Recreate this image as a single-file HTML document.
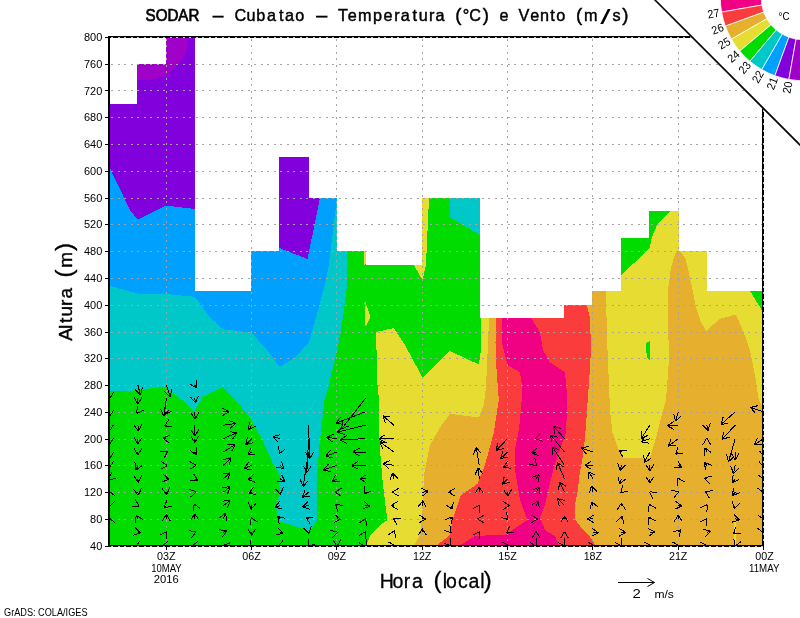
<!DOCTYPE html>
<html><head><meta charset="utf-8"><title>SODAR - Cubatao</title>
<style>html,body{margin:0;padding:0;background:#fff}svg{display:block}text{font-family:"Liberation Sans",sans-serif;fill:#000}</style></head><body>
<svg width="800" height="618" viewBox="0 0 800 618">
<rect width="800" height="618" fill="#fff"/>
<defs><clipPath id="sil"><polygon points="109.4,545.6 109.0,104.0 137.0,104.0 137.0,64.0 166.0,64.0 166.0,37.0 195.0,37.0 195.0,291.0 223.0,291.0 223.0,291.0 251.0,291.0 251.0,251.0 279.0,251.0 279.0,157.0 309.0,157.0 309.0,198.0 337.0,198.0 337.0,251.0 366.0,251.0 366.0,265.0 394.0,265.0 394.0,265.0 422.0,265.0 422.0,198.0 451.0,198.0 451.0,198.0 480.0,198.0 480.0,318.0 508.0,318.0 508.0,318.0 536.0,318.0 536.0,318.0 564.0,318.0 564.0,305.0 592.0,305.0 592.0,291.0 621.0,291.0 621.0,238.0 649.0,238.0 649.0,211.0 679.0,211.0 679.0,251.0 707.0,251.0 707.0,291.0 735.0,291.0 735.0,291.0 763.0,291.0 763.5,545.6"/></clipPath>
<clipPath id="cut"><polygon points="0,0 654,0 800,146 800,618 0,618"/></clipPath>
<clipPath id="box"><rect x="108" y="36" width="656" height="511"/></clipPath></defs>
<g clip-path="url(#cut)">
<g clip-path="url(#sil)" shape-rendering="crispEdges">
<rect x="100" y="30" width="680" height="520" fill="#00c8c8"/>
<polygon fill="#00a0ff" points="100.0,285.8 109.4,285.8 137.5,293.5 166.0,294.0 194.8,296.8 210.0,317.5 223.8,329.5 251.0,332.5 265.0,347.5 279.5,366.8 295.0,357.5 308.8,342.5 317.5,312.5 326.0,280.0 328.8,265.0 337.0,198.0 337.0,30.0 100.0,30.0"/>
<polygon fill="#8200dc" points="100.0,167.0 109.4,167.0 116.0,181.0 130.0,210.0 137.5,219.5 166.0,205.5 194.8,209.0 200.0,209.0 200.0,30.0 100.0,30.0"/>
<polygon fill="#8200dc" points="278.0,247.5 307.5,259.0 320.0,198.0 320.0,150.0 278.0,150.0"/>
<polygon fill="#a000c8" points="136.0,79.8 150.0,80.0 166.0,76.5 175.0,68.0 185.0,55.5 188.0,45.0 187.0,37.0 187.0,30.0 136.0,30.0"/>
<polygon fill="#00dc00" points="100.0,390.8 109.4,390.8 125.0,391.5 137.5,390.0 162.5,387.0 166.0,387.5 172.5,392.5 185.0,402.5 194.2,411.2 202.5,397.5 222.5,387.0 235.0,400.0 250.0,417.5 262.5,440.0 272.5,462.5 280.0,477.5 278.8,482.5 280.0,492.5 276.0,505.0 278.0,521.0 300.0,528.0 305.0,528.0 308.5,533.0 317.5,520.0 317.0,475.0 319.5,445.0 324.5,400.0 329.0,385.0 338.8,342.5 343.8,312.5 347.5,280.0 347.0,251.0 347.0,30.0 800.0,30.0 800.0,560.0 100.0,560.0"/>
<polygon fill="#00c8c8" points="450.0,190.0 480.0,190.0 480.0,235.0 450.0,217.5"/>
<polygon fill="#e6dc32" points="366.0,546.0 370.0,536.0 380.0,525.0 387.5,520.0 386.0,510.0 382.5,480.0 380.0,450.0 378.8,425.0 379.0,400.0 377.5,385.0 376.8,360.0 376.0,332.0 393.8,328.0 405.0,345.0 422.5,377.5 450.0,351.0 478.8,364.5 481.0,350.0 481.0,280.0 621.0,280.0 621.0,275.0 646.0,252.0 650.0,247.0 652.0,237.0 657.0,225.0 670.0,211.0 680.0,205.0 750.0,205.0 750.0,291.0 763.0,312.0 800.0,312.0 800.0,560.0 366.0,560.0"/>
<polygon fill="#e6dc32" points="364.0,251.0 366.0,251.0 365.5,264.5 364.5,264.5"/>
<polygon fill="#e6dc32" points="422.0,198.0 429.0,198.0 426.0,264.5 422.5,280.0 413.5,264.5 422.0,264.5"/>
<polygon fill="#e6dc32" points="364.5,303.5 365.5,302.0 370.5,317.5 366.0,326.0 364.5,325.0"/>
<polygon fill="#00dc00" points="646.0,343.0 649.5,341.0 649.5,360.0 647.5,358.0 646.0,350.0"/>
<polygon fill="#e6af2d" points="413.8,546.0 420.0,535.0 423.0,505.0 423.8,475.0 430.0,445.0 440.0,427.5 450.0,413.8 478.8,417.5 483.8,405.0 486.0,387.5 488.8,325.0 488.8,300.0 606.0,280.0 606.0,300.0 607.5,350.0 610.0,410.0 612.5,432.5 618.8,450.0 623.8,458.0 650.0,458.0 656.0,437.5 662.5,412.5 666.0,400.0 668.8,362.5 668.0,300.0 668.0,290.0 671.0,267.5 676.0,251.0 680.0,251.0 685.0,257.5 688.8,272.5 692.5,290.0 696.0,307.5 700.0,320.0 706.0,331.0 720.0,318.8 736.0,314.5 743.8,332.5 750.0,350.0 755.0,375.0 758.8,400.0 763.0,407.5 800.0,407.0 800.0,560.0 413.0,560.0"/>
<polygon fill="#fa3c3c" points="436.0,546.0 450.0,535.0 452.5,520.0 461.0,495.0 477.5,483.8 485.0,465.0 493.8,432.5 498.8,400.0 496.0,362.5 495.5,342.5 496.0,300.0 585.5,300.0 590.0,317.5 591.0,350.0 589.5,375.0 586.0,425.0 583.8,450.0 579.4,476.0 577.5,492.0 575.0,505.0 575.0,519.0 580.0,526.0 590.0,537.0 596.0,546.0 596.0,560.0 436.0,560.0"/>
<polygon fill="#f00082" points="459.0,546.0 475.0,536.0 506.0,534.5 512.5,530.0 527.5,520.0 520.0,500.0 515.0,470.0 515.0,450.0 518.8,430.0 521.0,410.0 522.5,387.5 520.0,372.5 507.5,365.0 502.5,345.0 502.0,300.0 531.0,300.0 531.0,318.0 540.0,332.5 543.0,350.0 550.0,362.5 565.0,372.5 567.5,400.0 566.0,432.5 562.5,442.5 556.0,460.0 550.0,482.5 545.0,505.0 540.0,517.5 545.0,530.0 555.0,536.0 559.0,546.0 559.0,560.0 459.0,560.0"/>
<polygon fill="#e6dc32" points="733.5,522.0 735.5,522.0 736.0,545.0 734.0,545.0"/>
</g>
<g stroke="#a4a4a4" stroke-width="1" stroke-dasharray="1.7 4.8" fill="none" shape-rendering="crispEdges">
<line x1="111.4" y1="519.5" x2="763.5" y2="519.5"/>
<line x1="111.4" y1="492.5" x2="763.5" y2="492.5"/>
<line x1="111.4" y1="465.5" x2="763.5" y2="465.5"/>
<line x1="111.4" y1="439.5" x2="763.5" y2="439.5"/>
<line x1="111.4" y1="412.5" x2="763.5" y2="412.5"/>
<line x1="111.4" y1="385.5" x2="763.5" y2="385.5"/>
<line x1="111.4" y1="358.5" x2="763.5" y2="358.5"/>
<line x1="111.4" y1="332.5" x2="763.5" y2="332.5"/>
<line x1="111.4" y1="305.5" x2="763.5" y2="305.5"/>
<line x1="111.4" y1="278.5" x2="763.5" y2="278.5"/>
<line x1="111.4" y1="251.5" x2="763.5" y2="251.5"/>
<line x1="111.4" y1="224.5" x2="763.5" y2="224.5"/>
<line x1="111.4" y1="198.5" x2="763.5" y2="198.5"/>
<line x1="111.4" y1="171.5" x2="763.5" y2="171.5"/>
<line x1="111.4" y1="144.5" x2="763.5" y2="144.5"/>
<line x1="111.4" y1="117.5" x2="763.5" y2="117.5"/>
<line x1="111.4" y1="90.5" x2="763.5" y2="90.5"/>
<line x1="111.4" y1="64.5" x2="763.5" y2="64.5"/>
<line x1="166.5" y1="38.9" x2="166.5" y2="545.6"/>
<line x1="251.5" y1="38.9" x2="251.5" y2="545.6"/>
<line x1="336.5" y1="38.9" x2="336.5" y2="545.6"/>
<line x1="422.5" y1="38.9" x2="422.5" y2="545.6"/>
<line x1="507.5" y1="38.9" x2="507.5" y2="545.6"/>
<line x1="592.5" y1="38.9" x2="592.5" y2="545.6"/>
<line x1="678.5" y1="38.9" x2="678.5" y2="545.6"/>
</g>
<g clip-path="url(#box)" stroke="#000" stroke-width="1" fill="none" stroke-linecap="butt" shape-rendering="crispEdges">
<path d="M109.5,545.7 L109.9,544.3 M109.9,544.3 L104.3,549.6 M109.9,544.3 L112.0,551.7 M109.5,518.9 L109.2,518.0 M109.2,518.0 L107.7,525.5 M109.2,518.0 L115.1,522.8 M109.5,505.5 L109.2,506.5 M109.2,506.5 L114.8,501.2 M109.2,506.5 L107.1,499.1 M109.5,492.2 L109.2,491.2 M109.2,491.2 L107.7,498.8 M109.2,491.2 L115.1,496.1 M109.5,478.8 L108.7,479.3 M108.7,479.3 L116.4,478.8 M108.7,479.3 L111.8,472.3 M109.5,465.4 L109.3,467.4 M109.3,467.4 L113.9,461.1 M109.3,467.4 L105.9,460.5 M109.5,452.0 L109.5,459.0 M109.5,459.0 L113.5,452.4 M109.5,459.0 L105.5,452.4 M109.5,438.6 L109.5,444.6 M109.5,444.6 L113.5,438.0 M109.5,444.6 L105.5,438.0 M109.5,425.2 L109.5,431.2 M109.5,431.2 L113.5,424.6 M109.5,431.2 L105.5,424.6 M109.5,411.8 L109.5,416.8 M109.5,416.8 L113.5,410.2 M109.5,416.8 L105.5,410.2 M109.5,398.4 L109.5,398.9 M109.5,398.9 L113.5,392.3 M109.5,398.9 L105.5,392.3 M137.9,545.7 L135.6,546.6 M135.6,546.6 L143.1,548.0 M135.6,546.6 L140.4,540.6 M137.9,532.3 L140.4,532.9 M140.4,532.9 L134.9,527.5 M140.4,532.9 L133.0,535.2 M137.9,518.9 L136.1,515.4 M136.1,515.4 L135.7,523.1 M136.1,515.4 L142.7,519.4 M137.9,505.5 L139.3,506.2 M139.3,506.2 L135.2,499.7 M139.3,506.2 L131.6,506.8 M137.9,492.2 L138.4,495.4 M138.4,495.4 L141.4,488.3 M138.4,495.4 L133.5,489.4 M137.9,478.8 L138.1,482.3 M138.1,482.3 L141.8,475.5 M138.1,482.3 L133.9,475.8 M137.9,465.4 L136.0,470.0 M136.0,470.0 L142.2,465.5 M136.0,470.0 L134.9,462.4 M137.9,452.0 L137.9,455.0 M137.9,455.0 L141.9,448.4 M137.9,455.0 L134.0,448.4 M137.9,438.6 L137.5,444.1 M137.5,444.1 L142.0,437.9 M137.5,444.1 L134.1,437.2 M137.9,425.2 L138.5,431.2 M138.5,431.2 L141.8,424.3 M138.5,431.2 L133.9,425.0 M137.9,411.8 L136.8,413.5 M136.8,413.5 L143.8,410.3 M136.8,413.5 L137.3,405.8 M137.9,398.4 L137.9,403.9 M137.9,403.9 L141.9,397.3 M137.9,403.9 L134.0,397.3 M137.9,385.1 L140.4,394.8 M140.4,394.8 L142.6,387.4 M140.4,394.8 L134.9,389.3 M166.4,545.7 L161.6,546.1 M161.6,546.1 L168.6,549.5 M161.6,546.1 L167.9,541.6 M166.4,532.3 L166.8,531.7 M166.8,531.7 L159.8,535.0 M166.8,531.7 L166.4,539.4 M166.4,518.9 L166.4,514.3 M166.4,514.3 L162.4,520.9 M166.4,514.3 L170.3,520.9 M166.4,505.5 L163.9,507.3 M163.9,507.3 L171.6,506.7 M163.9,507.3 L167.0,500.2 M166.4,492.2 L166.7,494.5 M166.7,494.5 L169.8,487.5 M166.7,494.5 L161.9,488.5 M166.4,478.8 L169.1,479.3 M169.1,479.3 L163.3,474.2 M169.1,479.3 L161.9,482.0 M166.4,465.4 L167.4,465.4 M167.4,465.4 L160.8,461.4 M167.4,465.4 L160.8,469.3 M166.4,452.0 L167.7,451.2 M167.7,451.2 L160.0,451.3 M167.7,451.2 L164.2,458.1 M166.4,438.6 L162.9,438.1 M162.9,438.1 L168.9,443.0 M162.9,438.1 L170.0,435.1 M166.4,425.2 L164.6,426.1 M164.6,426.1 L172.3,426.7 M164.6,426.1 L168.7,419.6 M166.4,411.8 L164.7,414.3 M164.7,414.3 L171.7,411.2 M164.7,414.3 L165.2,406.6 M166.4,398.4 L163.6,416.2 M163.6,416.2 L168.5,410.3 M163.6,416.2 L160.7,409.1 M166.4,385.1 L170.1,396.7 M170.1,396.7 L171.9,389.2 M170.1,396.7 L164.3,391.6 M194.8,545.7 L191.7,546.0 M191.7,546.0 L198.6,549.3 M191.7,546.0 L198.0,541.4 M194.8,532.3 L196.1,531.8 M196.1,531.8 L188.5,530.6 M196.1,531.8 L191.5,537.9 M194.8,518.9 L194.8,513.7 M194.8,513.7 L190.8,520.3 M194.8,513.7 L198.8,520.3 M194.8,505.5 L194.2,504.0 M194.2,504.0 L193.0,511.6 M194.2,504.0 L200.3,508.6 M194.8,492.2 L196.3,491.9 M196.3,491.9 L189.1,489.2 M196.3,491.9 L190.6,497.0 M194.8,478.8 L197.7,480.1 M197.7,480.1 L193.4,473.7 M197.7,480.1 L190.1,480.9 M194.8,465.4 L196.1,465.4 M196.1,465.4 L189.5,461.4 M196.1,465.4 L189.5,469.3 M194.8,452.0 L196.0,454.7 M196.0,454.7 L197.0,447.1 M196.0,454.7 L189.7,450.3 M194.8,438.6 L194.8,442.6 M194.8,442.6 L198.8,436.0 M194.8,442.6 L190.8,436.0 M194.8,425.2 L194.8,436.2 M194.8,436.2 L198.8,429.6 M194.8,436.2 L190.8,429.6 M194.8,411.8 L195.2,419.3 M195.2,419.3 L198.8,412.5 M195.2,419.3 L190.9,412.9 M194.8,398.4 L195.6,402.9 M195.6,402.9 L198.4,395.7 M195.6,402.9 L190.5,397.1 M194.8,385.1 L196.3,387.7 M196.3,387.7 L196.5,380.0 M196.3,387.7 L189.6,383.9 M223.3,545.7 L222.8,545.6 M222.8,545.6 L228.6,550.7 M222.8,545.6 L230.0,542.8 M223.3,532.3 L226.9,530.8 M226.9,530.8 L219.3,529.7 M226.9,530.8 L222.4,537.0 M223.3,518.9 L225.4,513.1 M225.4,513.1 L219.4,517.9 M225.4,513.1 L226.9,520.7 M223.3,505.5 L230.4,500.5 M230.4,500.5 L222.7,501.1 M230.4,500.5 L227.3,507.6 M223.3,492.2 L230.1,486.6 M230.1,486.6 L222.5,487.7 M230.1,486.6 L227.5,493.9 M223.3,478.8 L230.1,472.8 M230.1,472.8 L222.5,474.1 M230.1,472.8 L227.7,480.1 M223.3,465.4 L231.0,457.9 M231.0,457.9 L223.4,459.7 M231.0,457.9 L229.0,465.4 M223.3,452.0 L235.1,444.6 M235.1,444.6 L227.4,444.7 M235.1,444.6 L231.6,451.4 M223.3,438.6 L237.2,432.7 M237.2,432.7 L229.6,431.6 M237.2,432.7 L232.7,438.9 M223.3,425.2 L236.0,423.4 M236.0,423.4 L228.9,420.4 M236.0,423.4 L230.0,428.3 M223.3,411.8 L228.9,411.8 M228.9,411.8 L222.3,407.9 M228.9,411.8 L222.3,415.8 M251.7,545.7 L249.6,548.2 M249.6,548.2 L256.9,545.6 M249.6,548.2 L250.8,540.5 M251.7,532.3 L251.7,535.4 M251.7,535.4 L255.7,528.8 M251.7,535.4 L247.7,528.8 M251.7,518.9 L251.1,517.7 M251.1,517.7 L250.4,525.3 M251.1,517.7 L257.5,521.9 M251.7,505.5 L251.2,509.3 M251.2,509.3 L256.0,503.3 M251.2,509.3 L248.2,502.2 M251.7,492.2 L248.9,493.2 M248.9,493.2 L256.4,494.7 M248.9,493.2 L253.7,487.2 M251.7,478.8 L248.0,479.4 M248.0,479.4 L255.1,482.2 M248.0,479.4 L253.8,474.4 M251.7,465.4 L243.9,468.4 M243.9,468.4 L251.5,469.7 M243.9,468.4 L248.7,462.3 M251.7,452.0 L247.7,454.5 M247.7,454.5 L255.4,454.4 M247.7,454.5 L251.2,447.6 M251.7,438.6 L245.7,444.6 M245.7,444.6 L253.2,442.8 M245.7,444.6 L247.5,437.1 M251.7,425.2 L248.9,429.6 M248.9,429.6 L255.8,426.1 M248.9,429.6 L249.1,421.9 M280.1,545.7 L278.3,546.4 M278.3,546.4 L285.8,547.9 M278.3,546.4 L283.1,540.4 M280.1,532.3 L282.9,533.1 M282.9,533.1 L277.6,527.5 M282.9,533.1 L275.5,535.2 M280.1,518.9 L277.7,516.2 M277.7,516.2 L279.1,523.7 M277.7,516.2 L285.0,518.4 M280.1,505.5 L274.7,507.4 M274.7,507.4 L282.3,509.0 M274.7,507.4 L279.7,501.5 M280.1,492.2 L280.6,494.5 M280.6,494.5 L283.2,487.3 M280.6,494.5 L275.4,488.8 M280.1,478.8 L285.2,482.0 M285.2,482.0 L281.8,475.1 M285.2,482.0 L277.5,481.8 M280.1,465.4 L283.9,468.4 M283.9,468.4 L281.2,461.2 M283.9,468.4 L276.2,467.3 M280.1,452.0 L279.6,453.5 M279.6,453.5 L285.6,448.7 M279.6,453.5 L278.2,445.9 M280.1,438.6 L272.9,436.7 M272.9,436.7 L278.2,442.2 M272.9,436.7 L280.3,434.5 M308.6,545.7 L307.8,546.6 M307.8,546.6 L315.1,544.1 M307.8,546.6 L309.0,539.0 M308.6,532.3 L308.9,533.5 M308.9,533.5 L311.2,526.2 M308.9,533.5 L303.5,528.0 M308.6,518.9 L306.0,517.7 M306.0,517.7 L310.2,524.1 M306.0,517.7 L313.6,517.0 M308.6,505.5 L302.5,506.8 M302.5,506.8 L309.8,509.3 M302.5,506.8 L308.1,501.6 M308.6,492.2 L302.4,497.3 M302.4,497.3 L310.1,496.1 M302.4,497.3 L304.9,490.0 M308.6,452.0 L303.1,486.6 M303.1,486.6 L308.1,480.7 M303.1,486.6 L300.2,479.4 M308.6,438.6 L306.8,472.6 M306.8,472.6 L311.1,466.2 M306.8,472.6 L303.2,465.8 M308.6,425.2 L309.7,458.8 M309.7,458.8 L313.5,452.1 M309.7,458.8 L305.5,452.3 M337.0,545.7 L337.0,546.2 M337.0,546.2 L340.8,539.5 M337.0,546.2 L332.8,539.7 M337.0,532.3 L337.5,532.2 M337.5,532.2 L330.1,530.2 M337.5,532.2 L332.2,537.8 M337.0,518.9 L340.7,519.4 M340.7,519.4 L334.6,514.6 M340.7,519.4 L333.7,522.5 M337.0,505.5 L335.5,504.3 M335.5,504.3 L338.0,511.5 M335.5,504.3 L343.1,505.5 M337.0,492.2 L334.8,492.2 M334.8,492.2 L341.4,496.1 M334.8,492.2 L341.4,488.2 M337.0,478.8 L331.9,481.9 M331.9,481.9 L339.6,481.8 M331.9,481.9 L335.4,475.1 M337.0,465.4 L323.5,470.0 M323.5,470.0 L331.0,471.6 M323.5,470.0 L328.4,464.1 M337.0,452.0 L325.6,456.4 M325.6,456.4 L333.2,457.7 M325.6,456.4 L330.4,450.3 M337.0,438.6 L326.5,437.3 M326.5,437.3 L332.6,442.1 M326.5,437.3 L333.5,434.2 M365.5,545.7 L366.0,546.6 M366.0,546.6 L366.1,538.9 M366.0,546.6 L359.2,542.8 M365.5,532.3 L365.9,531.6 M365.9,531.6 L359.1,535.3 M365.9,531.6 L366.0,539.3 M365.5,518.9 L365.7,518.5 M365.7,518.5 L359.3,522.8 M365.7,518.5 L366.5,526.1 M365.5,505.5 L369.8,506.3 M369.8,506.3 L364.0,501.2 M369.8,506.3 L362.6,509.1 M365.5,492.2 L364.1,494.1 M364.1,494.1 L371.1,491.0 M364.1,494.1 L364.6,486.4 M365.5,478.8 L359.7,478.8 M359.7,478.8 L366.3,482.7 M359.7,478.8 L366.3,474.8 M365.5,465.4 L351.6,465.4 M351.6,465.4 L358.2,469.3 M351.6,465.4 L358.2,461.4 M365.5,452.0 L353.0,452.0 M353.0,452.0 L359.6,456.0 M353.0,452.0 L359.6,448.0 M365.5,438.6 L340.2,439.9 M340.2,439.9 L347.0,443.5 M340.2,439.9 L346.6,435.6 M365.5,425.2 L337.3,432.2 M337.3,432.2 L344.7,434.5 M337.3,432.2 L342.8,426.8 M365.5,411.8 L335.9,423.2 M335.9,423.2 L343.4,424.5 M335.9,423.2 L340.6,417.1 M365.5,398.4 L341.7,428.8 M341.7,428.8 L348.9,426.0 M341.7,428.8 L342.7,421.1 M393.9,545.7 L395.4,545.6 M395.4,545.6 L388.6,542.0 M395.4,545.6 L389.0,549.9 M393.9,532.3 L394.7,530.5 M394.7,530.5 L388.4,534.8 M394.7,530.5 L395.5,538.2 M393.9,518.9 L393.5,518.7 M393.5,518.7 L397.2,525.4 M393.5,518.7 L401.2,518.5 M393.9,505.5 L391.0,505.5 M391.0,505.5 L397.6,509.5 M391.0,505.5 L397.6,501.6 M393.9,492.2 L392.3,492.2 M392.3,492.2 L398.9,496.1 M392.3,492.2 L398.9,488.2 M393.9,478.8 L392.3,472.9 M392.3,472.9 L390.2,480.3 M392.3,472.9 L397.9,478.2 M393.9,465.4 L382.9,463.4 M382.9,463.4 L388.7,468.5 M382.9,463.4 L390.0,460.7 M393.9,452.0 L379.8,441.8 M379.8,441.8 L382.8,448.9 M379.8,441.8 L387.5,442.4 M393.9,438.6 L378.9,438.6 M378.9,438.6 L385.5,442.6 M378.9,438.6 L385.5,434.6 M393.9,425.2 L382.9,415.8 M382.9,415.8 L385.3,423.1 M382.9,415.8 L390.5,417.1 M422.3,532.3 L422.2,528.6 M422.2,528.6 L418.5,535.3 M422.2,528.6 L426.4,535.0 M422.3,518.9 L425.6,518.9 M425.6,518.9 L419.0,515.0 M425.6,518.9 L419.0,522.9 M422.3,505.5 L422.9,500.6 M422.9,500.6 L418.2,506.7 M422.9,500.6 L426.1,507.5 M422.3,492.2 L428.3,491.3 M428.3,491.3 L421.2,488.3 M428.3,491.3 L422.3,496.2 M450.8,545.7 L451.1,546.1 M451.1,546.1 L450.5,538.4 M451.1,546.1 L444.0,543.0 M450.8,532.3 L451.1,532.7 M451.1,532.7 L449.9,525.1 M451.1,532.7 L443.8,530.2 M450.8,518.9 L452.4,516.8 M452.4,516.8 L445.2,519.6 M452.4,516.8 L451.5,524.4 M450.8,505.5 L452.5,509.3 M452.5,509.3 L453.3,501.6 M452.5,509.3 L446.1,505.0 M450.8,492.2 L448.5,492.2 M448.5,492.2 L455.1,496.1 M448.5,492.2 L455.1,488.2 M479.2,532.3 L479.7,531.5 M479.7,531.5 L472.9,535.0 M479.7,531.5 L479.6,539.2 M479.2,518.9 L477.5,518.9 M477.5,518.9 L484.1,522.9 M477.5,518.9 L484.1,515.0 M479.2,505.5 L479.5,505.0 M479.5,505.0 L472.8,508.7 M479.5,505.0 L479.6,512.7 M479.2,492.2 L479.2,486.7 M479.2,486.7 L475.2,493.3 M479.2,486.7 L483.2,493.3 M479.2,478.8 L478.4,467.8 M478.4,467.8 L474.9,474.7 M478.4,467.8 L482.9,474.1 M479.2,465.4 L476.2,447.4 M476.2,447.4 L473.4,454.6 M476.2,447.4 L481.2,453.3 M507.6,545.7 L509.1,545.6 M509.1,545.6 L502.3,542.0 M509.1,545.6 L502.8,549.9 M507.6,532.3 L506.6,533.1 M506.6,533.1 L514.3,532.5 M506.6,533.1 L509.7,526.0 M507.6,518.9 L508.1,519.4 M508.1,519.4 L506.2,511.9 M508.1,519.4 L500.6,517.5 M507.6,505.5 L509.6,505.5 M509.6,505.5 L503.0,501.6 M509.6,505.5 L503.0,509.5 M507.6,492.2 L507.6,496.1 M507.6,496.1 L511.6,489.5 M507.6,496.1 L503.7,489.5 M507.6,478.8 L502.4,484.2 M502.4,484.2 L509.9,482.2 M502.4,484.2 L504.2,476.7 M507.6,465.4 L503.4,467.1 M503.4,467.1 L511.0,468.3 M503.4,467.1 L508.0,461.0 M507.6,452.0 L500.6,458.6 M500.6,458.6 L508.1,457.0 M500.6,458.6 L502.7,451.2 M507.6,438.6 L496.1,450.5 M496.1,450.5 L503.6,448.6 M496.1,450.5 L497.8,443.0 M536.1,545.7 L536.3,546.1 M536.3,546.1 L536.5,538.4 M536.3,546.1 L529.6,542.4 M536.1,532.3 L536.1,531.3 M536.1,531.3 L532.1,537.9 M536.1,531.3 L540.1,537.9 M536.1,518.9 L537.6,518.9 M537.6,518.9 L531.0,515.0 M537.6,518.9 L531.0,522.9 M536.1,505.5 L538.5,500.6 M538.5,500.6 L532.0,504.8 M538.5,500.6 L539.2,508.3 M536.1,492.2 L539.4,486.7 M539.4,486.7 L532.6,490.3 M539.4,486.7 L539.4,494.4 M536.1,478.8 L539.3,474.5 M539.3,474.5 L532.2,477.3 M539.3,474.5 L538.5,482.2 M536.1,465.4 L536.6,465.9 M536.6,465.9 L534.8,458.4 M536.6,465.9 L529.1,463.9 M536.1,452.0 L531.5,452.8 M531.5,452.8 L538.6,455.6 M531.5,452.8 L537.3,447.8 M536.1,438.6 L535.3,438.8 M535.3,438.8 L542.7,441.1 M535.3,438.8 L540.8,433.4 M564.5,545.7 L564.8,546.1 M564.8,546.1 L564.9,538.4 M564.8,546.1 L558.0,542.4 M564.5,532.3 L564.5,531.7 M564.5,531.7 L560.6,538.3 M564.5,531.7 L568.5,538.3 M564.5,518.9 L564.5,515.9 M564.5,515.9 L560.6,522.5 M564.5,515.9 L568.5,522.5 M564.5,505.5 L557.4,498.7 M557.4,498.7 L559.4,506.1 M557.4,498.7 L564.9,500.4 M564.5,492.2 L559.3,482.0 M559.3,482.0 L558.8,489.7 M559.3,482.0 L565.8,486.1 M564.5,478.8 L557.4,462.5 M557.4,462.5 L556.4,470.2 M557.4,462.5 L563.7,467.0 M564.5,465.4 L552.4,446.8 M552.4,446.8 L552.7,454.5 M552.4,446.8 L559.4,450.1 M564.5,452.0 L550.6,434.8 M550.6,434.8 L551.7,442.4 M550.6,434.8 L557.9,437.4 M564.5,438.6 L553.4,426.1 M553.4,426.1 L554.9,433.7 M553.4,426.1 L560.8,428.4 M593.0,545.7 L594.5,545.6 M594.5,545.6 L587.7,542.0 M594.5,545.6 L588.1,549.9 M593.0,532.3 L598.4,532.8 M598.4,532.8 L592.2,528.3 M598.4,532.8 L591.5,536.2 M593.0,518.9 L587.5,519.1 M587.5,519.1 L594.2,522.9 M587.5,519.1 L593.9,514.9 M593.0,505.5 L591.5,501.8 M591.5,501.8 L590.3,509.4 M591.5,501.8 L597.6,506.5 M593.0,492.2 L591.4,486.0 M591.4,486.0 L589.2,493.4 M591.4,486.0 L596.9,491.5 M593.0,478.8 L588.7,471.7 M588.7,471.7 L588.7,479.4 M588.7,471.7 L595.5,475.3 M593.0,465.4 L584.7,465.4 M584.7,465.4 L591.3,469.3 M584.7,465.4 L591.3,461.4 M593.0,452.0 L581.2,448.0 M581.2,448.0 L586.2,453.9 M581.2,448.0 L588.8,446.4 M621.4,545.7 L621.7,546.1 M621.7,546.1 L621.8,538.4 M621.7,546.1 L614.9,542.4 M621.4,532.3 L625.7,532.3 M625.7,532.3 L619.1,528.3 M625.7,532.3 L619.1,536.3 M621.4,518.9 L622.2,516.4 M622.2,516.4 L616.4,521.4 M622.2,516.4 L624.0,523.9 M621.4,505.5 L621.4,503.0 M621.4,503.0 L617.4,509.6 M621.4,503.0 L625.4,509.6 M621.4,492.2 L620.8,492.7 M620.8,492.7 L628.3,490.9 M620.8,492.7 L622.7,485.2 M621.4,478.8 L619.8,484.1 M619.8,484.1 L625.5,479.0 M619.8,484.1 L617.9,476.7 M621.4,465.4 L620.3,470.5 M620.3,470.5 L625.6,464.8 M620.3,470.5 L617.8,463.2 M621.4,452.0 L619.2,450.8 M619.2,450.8 L623.2,457.4 M619.2,450.8 L626.9,450.4 M649.8,545.7 L650.8,545.6 M650.8,545.6 L644.0,542.0 M650.8,545.6 L644.5,550.0 M649.8,532.3 L654.7,531.9 M654.7,531.9 L647.8,528.5 M654.7,531.9 L648.5,536.4 M649.8,518.9 L648.8,516.9 M648.8,516.9 L648.4,524.6 M648.8,516.9 L655.4,520.9 M649.8,505.5 L649.1,504.2 M649.1,504.2 L648.7,511.9 M649.1,504.2 L655.7,508.2 M649.8,492.2 L649.5,491.9 M649.5,491.9 L652.9,498.9 M649.5,491.9 L657.2,492.2 M649.8,478.8 L649.8,483.3 M649.8,483.3 L653.8,476.7 M649.8,483.3 L645.9,476.7 M649.8,465.4 L649.8,471.1 M649.8,471.1 L653.8,464.5 M649.8,471.1 L645.9,464.5 M649.8,452.0 L644.3,462.6 M644.3,462.6 L650.9,458.6 M644.3,462.6 L643.8,455.0 M649.8,438.6 L641.2,441.8 M641.2,441.8 L648.8,443.2 M641.2,441.8 L646.0,435.8 M649.8,425.2 L641.2,438.6 M641.2,438.6 L648.1,435.2 M641.2,438.6 L641.4,430.9 M678.3,545.7 L679.3,545.6 M679.3,545.6 L672.5,542.0 M679.3,545.6 L672.9,550.0 M678.3,532.3 L680.8,529.8 M680.8,529.8 L673.3,531.7 M680.8,529.8 L678.9,537.3 M678.3,518.9 L678.3,514.9 M678.3,514.9 L674.3,521.5 M678.3,514.9 L682.3,521.5 M678.3,505.5 L681.9,505.9 M681.9,505.9 L675.6,501.3 M681.9,505.9 L675.0,509.2 M678.3,492.2 L679.0,491.9 M679.0,491.9 L671.5,490.2 M679.0,491.9 L673.9,497.7 M678.3,478.8 L677.9,478.1 M677.9,478.1 L677.8,485.8 M677.9,478.1 L684.6,481.8 M678.3,465.4 L681.5,467.1 M681.5,467.1 L677.6,460.5 M681.5,467.1 L673.9,467.5 M678.3,452.0 L675.6,454.3 M675.6,454.3 L683.2,453.0 M675.6,454.3 L678.0,447.0 M678.3,438.6 L668.2,446.1 M668.2,446.1 L675.8,445.4 M668.2,446.1 L671.1,439.0 M678.3,425.2 L667.3,425.8 M667.3,425.8 L674.1,429.4 M667.3,425.8 L673.7,421.5 M678.3,411.8 L675.6,421.2 M675.6,421.2 L681.2,415.9 M675.6,421.2 L673.6,413.7 M706.7,545.7 L707.2,545.7 M707.2,545.7 L700.4,542.1 M707.2,545.7 L700.8,550.0 M706.7,532.3 L710.5,531.3 M710.5,531.3 L703.1,529.2 M710.5,531.3 L705.1,536.8 M706.7,518.9 L706.9,518.7 M706.9,518.7 L699.9,521.8 M706.9,518.7 L706.4,526.4 M706.7,505.5 L707.4,504.6 M707.4,504.6 L700.4,507.7 M707.4,504.6 L706.9,512.2 M706.7,492.2 L705.2,491.4 M705.2,491.4 L709.3,497.9 M705.2,491.4 L712.9,490.8 M706.7,478.8 L704.4,478.1 M704.4,478.1 L709.7,483.7 M704.4,478.1 L711.8,476.0 M706.7,465.4 L704.4,462.6 M704.4,462.6 L705.6,470.2 M704.4,462.6 L711.7,465.1 M706.7,452.0 L705.0,448.0 M705.0,448.0 L704.0,455.6 M705.0,448.0 L711.2,452.4 M706.7,438.6 L706.7,438.1 M706.7,438.1 L702.8,444.7 M706.7,438.1 L710.7,444.7 M706.7,425.2 L708.1,430.4 M708.1,430.4 L710.2,423.0 M708.1,430.4 L702.6,425.1 M735.2,545.7 L735.0,546.2 M735.0,546.2 L741.1,541.5 M735.0,546.2 L733.8,538.6 M735.2,532.3 L733.2,533.8 M733.2,533.8 L740.9,533.0 M733.2,533.8 L736.1,526.6 M735.2,518.9 L739.2,519.9 M739.2,519.9 L733.8,514.5 M739.2,519.9 L731.9,522.2 M735.2,505.5 L734.3,508.7 M734.3,508.7 L739.9,503.4 M734.3,508.7 L732.3,501.2 M735.2,492.2 L732.4,495.4 M732.4,495.4 L739.7,492.9 M732.4,495.4 L733.6,487.8 M735.2,478.8 L732.4,482.5 M732.4,482.5 L739.5,479.5 M732.4,482.5 L733.1,474.9 M735.2,465.4 L733.4,473.6 M733.4,473.6 L738.7,468.0 M733.4,473.6 L730.9,466.3 M735.2,452.0 L735.2,459.9 M735.2,459.9 L739.1,453.3 M735.2,459.9 L731.2,453.3 M735.2,438.6 L728.5,461.7 M728.5,461.7 L734.2,456.4 M728.5,461.7 L726.5,454.2 M735.2,425.2 L722.1,439.3 M722.1,439.3 L729.5,437.1 M722.1,439.3 L723.7,431.7 M735.2,411.8 L720.8,424.6 M720.8,424.6 L728.4,423.2 M720.8,424.6 L723.1,417.2 M763.6,532.3 L763.8,532.8 M763.8,532.8 L764.9,525.1 M763.8,532.8 L757.6,528.3 M763.6,518.9 L763.8,519.4 M763.8,519.4 L764.9,511.8 M763.8,519.4 L757.6,514.9 M763.6,492.2 L763.8,492.6 M763.8,492.6 L764.9,485.0 M763.8,492.6 L757.6,488.1 M763.6,478.8 L763.8,479.2 M763.8,479.2 L764.9,471.6 M763.8,479.2 L757.6,474.7 M763.6,465.4 L763.9,467.3 M763.9,467.3 L766.7,460.2 M763.9,467.3 L758.9,461.5 M763.6,452.0 L764.0,457.0 M764.0,457.0 L767.4,450.1 M764.0,457.0 L759.5,450.7 M763.6,438.6 L754.4,444.6 M754.4,444.6 L762.1,444.3 M754.4,444.6 L757.7,437.7 M763.6,411.8 L750.4,407.3 M750.4,407.3 L755.3,413.2 M750.4,407.3 L757.9,405.7"/>
</g>
<g stroke="#000" fill="none">
<rect x="109" y="37" width="654" height="509" stroke-width="2" shape-rendering="crispEdges"/>
<g stroke="#c0c0c0" stroke-width="1" stroke-dasharray="1.7 4.8" shape-rendering="crispEdges"><line x1="111.4" y1="37.5" x2="763" y2="37.5"/><line x1="111.4" y1="546.5" x2="763" y2="546.5"/><line x1="763.5" y1="38.9" x2="763.5" y2="546"/></g>
</g>
</g>
<line x1="654" y1="-1" x2="801" y2="146" stroke="#000" stroke-width="1.6"/>
<g stroke="#000" stroke-width="1" shape-rendering="crispEdges">
<line x1="104.5" y1="546.5" x2="108.5" y2="546.5"/>
<line x1="104.5" y1="519.5" x2="108.5" y2="519.5"/>
<line x1="104.5" y1="492.5" x2="108.5" y2="492.5"/>
<line x1="104.5" y1="465.5" x2="108.5" y2="465.5"/>
<line x1="104.5" y1="439.5" x2="108.5" y2="439.5"/>
<line x1="104.5" y1="412.5" x2="108.5" y2="412.5"/>
<line x1="104.5" y1="385.5" x2="108.5" y2="385.5"/>
<line x1="104.5" y1="358.5" x2="108.5" y2="358.5"/>
<line x1="104.5" y1="332.5" x2="108.5" y2="332.5"/>
<line x1="104.5" y1="305.5" x2="108.5" y2="305.5"/>
<line x1="104.5" y1="278.5" x2="108.5" y2="278.5"/>
<line x1="104.5" y1="251.5" x2="108.5" y2="251.5"/>
<line x1="104.5" y1="224.5" x2="108.5" y2="224.5"/>
<line x1="104.5" y1="198.5" x2="108.5" y2="198.5"/>
<line x1="104.5" y1="171.5" x2="108.5" y2="171.5"/>
<line x1="104.5" y1="144.5" x2="108.5" y2="144.5"/>
<line x1="104.5" y1="117.5" x2="108.5" y2="117.5"/>
<line x1="104.5" y1="90.5" x2="108.5" y2="90.5"/>
<line x1="104.5" y1="64.5" x2="108.5" y2="64.5"/>
<line x1="104.5" y1="37.5" x2="108.5" y2="37.5"/>
<line x1="166.5" y1="546" x2="166.5" y2="550"/>
<line x1="251.5" y1="546" x2="251.5" y2="550"/>
<line x1="336.5" y1="546" x2="336.5" y2="550"/>
<line x1="422.5" y1="546" x2="422.5" y2="550"/>
<line x1="507.5" y1="546" x2="507.5" y2="550"/>
<line x1="592.5" y1="546" x2="592.5" y2="550"/>
<line x1="678.5" y1="546" x2="678.5" y2="550"/>
<line x1="763.5" y1="546" x2="763.5" y2="550"/>
</g>
<text x="102.3" y="549.7" font-size="11.6" text-anchor="end" textLength="12.2" lengthAdjust="spacingAndGlyphs">40</text>
<text x="102.3" y="522.9" font-size="11.6" text-anchor="end" textLength="12.2" lengthAdjust="spacingAndGlyphs">80</text>
<text x="102.3" y="496.2" font-size="11.6" text-anchor="end" textLength="18.3" lengthAdjust="spacingAndGlyphs">120</text>
<text x="102.3" y="469.4" font-size="11.6" text-anchor="end" textLength="18.3" lengthAdjust="spacingAndGlyphs">160</text>
<text x="102.3" y="442.6" font-size="11.6" text-anchor="end" textLength="18.3" lengthAdjust="spacingAndGlyphs">200</text>
<text x="102.3" y="415.8" font-size="11.6" text-anchor="end" textLength="18.3" lengthAdjust="spacingAndGlyphs">240</text>
<text x="102.3" y="389.1" font-size="11.6" text-anchor="end" textLength="18.3" lengthAdjust="spacingAndGlyphs">280</text>
<text x="102.3" y="362.3" font-size="11.6" text-anchor="end" textLength="18.3" lengthAdjust="spacingAndGlyphs">320</text>
<text x="102.3" y="335.5" font-size="11.6" text-anchor="end" textLength="18.3" lengthAdjust="spacingAndGlyphs">360</text>
<text x="102.3" y="308.7" font-size="11.6" text-anchor="end" textLength="18.3" lengthAdjust="spacingAndGlyphs">400</text>
<text x="102.3" y="282.0" font-size="11.6" text-anchor="end" textLength="18.3" lengthAdjust="spacingAndGlyphs">440</text>
<text x="102.3" y="255.2" font-size="11.6" text-anchor="end" textLength="18.3" lengthAdjust="spacingAndGlyphs">480</text>
<text x="102.3" y="228.4" font-size="11.6" text-anchor="end" textLength="18.3" lengthAdjust="spacingAndGlyphs">520</text>
<text x="102.3" y="201.6" font-size="11.6" text-anchor="end" textLength="18.3" lengthAdjust="spacingAndGlyphs">560</text>
<text x="102.3" y="174.9" font-size="11.6" text-anchor="end" textLength="18.3" lengthAdjust="spacingAndGlyphs">600</text>
<text x="102.3" y="148.1" font-size="11.6" text-anchor="end" textLength="18.3" lengthAdjust="spacingAndGlyphs">640</text>
<text x="102.3" y="121.3" font-size="11.6" text-anchor="end" textLength="18.3" lengthAdjust="spacingAndGlyphs">680</text>
<text x="102.3" y="94.5" font-size="11.6" text-anchor="end" textLength="18.3" lengthAdjust="spacingAndGlyphs">720</text>
<text x="102.3" y="67.8" font-size="11.6" text-anchor="end" textLength="18.3" lengthAdjust="spacingAndGlyphs">760</text>
<text x="102.3" y="41.0" font-size="11.6" text-anchor="end" textLength="18.3" lengthAdjust="spacingAndGlyphs">800</text>
<text x="166.3" y="560.2" font-size="11.5" text-anchor="middle" textLength="18.5" lengthAdjust="spacingAndGlyphs">03Z</text>
<text x="251.6" y="560.2" font-size="11.5" text-anchor="middle" textLength="18.5" lengthAdjust="spacingAndGlyphs">06Z</text>
<text x="336.9" y="560.2" font-size="11.5" text-anchor="middle" textLength="18.5" lengthAdjust="spacingAndGlyphs">09Z</text>
<text x="422.2" y="560.2" font-size="11.5" text-anchor="middle" textLength="18.5" lengthAdjust="spacingAndGlyphs">12Z</text>
<text x="507.5" y="560.2" font-size="11.5" text-anchor="middle" textLength="18.5" lengthAdjust="spacingAndGlyphs">15Z</text>
<text x="592.9" y="560.2" font-size="11.5" text-anchor="middle" textLength="18.5" lengthAdjust="spacingAndGlyphs">18Z</text>
<text x="678.2" y="560.2" font-size="11.5" text-anchor="middle" textLength="18.5" lengthAdjust="spacingAndGlyphs">21Z</text>
<text x="764.5" y="560.2" font-size="11.5" text-anchor="middle" textLength="18.5" lengthAdjust="spacingAndGlyphs">00Z</text>
<text x="166.4" y="571.6" font-size="11.5" text-anchor="middle" textLength="30.5" lengthAdjust="spacingAndGlyphs">10MAY</text>
<text x="166.2" y="582.8" font-size="11.5" text-anchor="middle" textLength="25" lengthAdjust="spacingAndGlyphs">2016</text>
<text x="764.2" y="571.6" font-size="11.5" text-anchor="middle" textLength="30.5" lengthAdjust="spacingAndGlyphs">11MAY</text>
<text y="20.8" font-size="16.2" stroke="#000" stroke-width="0.45"><tspan x="145.6" textLength="53.8" lengthAdjust="spacingAndGlyphs" stroke-width="0.7">SODAR</tspan> <tspan x="211.3" textLength="13.6" lengthAdjust="spacingAndGlyphs" stroke-width="0.5">-</tspan> <tspan x="234.6 246.4 256.2 266.9 278.9 284.9 295.2">Cubatao</tspan> <tspan x="314.7" textLength="14.0" lengthAdjust="spacingAndGlyphs" stroke-width="0.5">-</tspan> <tspan x="337.9 347.8 357.9 372.9 383.6 394.3 400.8 412.6 418.8 429.1 435.5">Temperatura</tspan> <tspan x="455.2" font-size="18.6">(</tspan><tspan x="462.8 469.3">°C</tspan><tspan x="482.7" font-size="18.6">)</tspan> <tspan x="499.4">e</tspan> <tspan x="518.4 530.2 539.9 550.2 556.3">Vento</tspan> <tspan x="576.0" font-size="18.6">(</tspan><tspan x="584.0">m</tspan><tspan x="600.3" dy="3.2" font-size="21" stroke="none" textLength="10.4" lengthAdjust="spacingAndGlyphs">/</tspan><tspan x="612.6" dy="-3.2">s</tspan><tspan x="622.3" font-size="18.6">)</tspan></text>
<text y="587.8" font-size="19.5" stroke="#000" stroke-width="0.3"><tspan x="379.8 392.5 403.7 411.9">Hora</tspan> <tspan x="433.6" font-size="24.0">(</tspan><tspan x="442.7 445.9 457.9 468.4 480.3">local</tspan><tspan x="483.7" font-size="24.0">)</tspan></text>
<text y="0.2" font-size="19" stroke="#000" stroke-width="0.4" transform="translate(71.9,340) rotate(-90)"><tspan x="-0.8 11.1 16.9 23.5 33.9 41.6">Altura</tspan> <tspan x="62.6" font-size="24.0">(</tspan><tspan x="72.3">m</tspan><tspan x="89.1" font-size="24.0">)</tspan></text>
<text x="4" y="616" font-size="10" textLength="83.5" lengthAdjust="spacingAndGlyphs">GrADS: COLA/IGES</text>
<g stroke="#000" stroke-width="1" fill="none"><path d="M618,582.5 H654.5 M647.5,578.5 L654.5,582.5 L647.5,586.5"/></g>
<text y="597.9"><tspan x="632.6" font-size="13.5" textLength="8.3" lengthAdjust="spacingAndGlyphs">2</tspan> <tspan x="654.4" font-size="11" textLength="19.5" lengthAdjust="spacingAndGlyphs">m/s</tspan></text>
<g stroke="#fff" stroke-width="0.8">
<path fill="#f00082" d="M761.3,-2.3 L720.3,-2.3 A83.0,83.0 0 0 0 721.6,12.1 L761.9,5.0 A42.0,42.0 0 0 1 761.3,-2.3 Z"/>
<path fill="#fa3c3c" d="M761.9,5.0 L721.6,12.1 A83.0,83.0 0 0 0 725.3,26.1 L763.8,12.1 A42.0,42.0 0 0 1 761.9,5.0 Z"/>
<path fill="#e6af2d" d="M763.8,12.1 L725.3,26.1 A83.0,83.0 0 0 0 731.4,39.2 L766.9,18.7 A42.0,42.0 0 0 1 763.8,12.1 Z"/>
<path fill="#e6dc32" d="M766.9,18.7 L731.4,39.2 A83.0,83.0 0 0 0 739.7,51.1 L771.1,24.7 A42.0,42.0 0 0 1 766.9,18.7 Z"/>
<path fill="#00dc00" d="M771.1,24.7 L739.7,51.1 A83.0,83.0 0 0 0 749.9,61.3 L776.3,29.9 A42.0,42.0 0 0 1 771.1,24.7 Z"/>
<path fill="#00c8c8" d="M776.3,29.9 L749.9,61.3 A83.0,83.0 0 0 0 761.8,69.6 L782.3,34.1 A42.0,42.0 0 0 1 776.3,29.9 Z"/>
<path fill="#00a0ff" d="M782.3,34.1 L761.8,69.6 A83.0,83.0 0 0 0 774.9,75.7 L788.9,37.2 A42.0,42.0 0 0 1 782.3,34.1 Z"/>
<path fill="#8200dc" d="M788.9,37.2 L774.9,75.7 A83.0,83.0 0 0 0 788.9,79.4 L796.0,39.1 A42.0,42.0 0 0 1 788.9,37.2 Z"/>
<path fill="#a000c8" d="M796.0,39.1 L788.9,79.4 A83.0,83.0 0 0 0 803.3,80.7 L803.3,39.7 A42.0,42.0 0 0 1 796.0,39.1 Z"/>
</g>
<text transform="translate(719.4,12.5) rotate(-10.0)" font-size="11.5" text-anchor="end" textLength="12" lengthAdjust="spacingAndGlyphs" y="4">27</text>
<text transform="translate(723.2,26.8) rotate(-20.0)" font-size="11.5" text-anchor="end" textLength="12" lengthAdjust="spacingAndGlyphs" y="4">26</text>
<text transform="translate(729.5,40.3) rotate(-30.0)" font-size="11.5" text-anchor="end" textLength="12" lengthAdjust="spacingAndGlyphs" y="4">25</text>
<text transform="translate(738.0,52.5) rotate(-40.0)" font-size="11.5" text-anchor="end" textLength="12" lengthAdjust="spacingAndGlyphs" y="4">24</text>
<text transform="translate(748.5,63.0) rotate(-50.0)" font-size="11.5" text-anchor="end" textLength="12" lengthAdjust="spacingAndGlyphs" y="4">23</text>
<text transform="translate(760.7,71.5) rotate(-60.0)" font-size="11.5" text-anchor="end" textLength="12" lengthAdjust="spacingAndGlyphs" y="4">22</text>
<text transform="translate(774.2,77.8) rotate(-70.0)" font-size="11.5" text-anchor="end" textLength="12" lengthAdjust="spacingAndGlyphs" y="4">21</text>
<text transform="translate(788.5,81.6) rotate(-80.0)" font-size="11.5" text-anchor="end" textLength="12" lengthAdjust="spacingAndGlyphs" y="4">20</text>
<text x="778.5" y="19.5" font-size="10.5" textLength="11" lengthAdjust="spacingAndGlyphs">°C</text>
</svg></body></html>
